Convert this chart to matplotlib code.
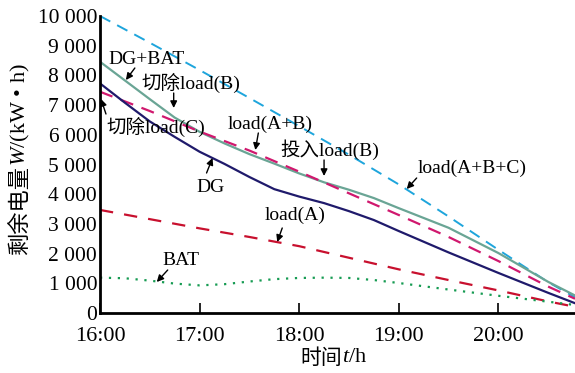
import matplotlib
matplotlib.use('Agg')
import matplotlib.pyplot as plt

plt.rcParams['mathtext.fontset'] = 'custom'
plt.rcParams['mathtext.it'] = 'Liberation Serif:italic'
plt.rcParams['mathtext.rm'] = 'Liberation Serif'

# 时间（从16:00起的小时数）
t = [0, 0.5, 1.0, 1.5, 2.0, 2.5, 3.0, 3.5, 4.0, 4.5, 4.77]
load_abc = [10000, 9100, 8180, 7240, 6290, 5330, 4330, 3250, 2130, 1040, 530]
load_ab = [7450, 6800, 6110, 5470, 4760, 4030, 3300, 2560, 1750, 890, 480]
load_a = [3470, 3160, 2850, 2560, 2250, 1860, 1470, 1110, 760, 390, 210]

t_q = [0, 0.25, 0.5, 0.75, 1.0, 1.25, 1.5, 1.75, 2.0, 2.25, 2.5, 2.75,
       3.0, 3.5, 4.0, 4.5, 4.77]
dg_bat = [8460, 7830, 7200, 6580, 6100, 5710, 5350, 5030, 4700, 4400, 4150,
          3870, 3530, 2870, 2020, 1050, 590]
dg = [7730, 7080, 6450, 5930, 5430, 5020, 4580, 4170, 3920, 3700, 3430,
      3130, 2760, 2040, 1350, 680, 330]
bat = [1190, 1170, 1090, 990, 930, 970, 1060, 1140, 1180, 1190, 1180,
       1110, 1010, 790, 580, 380, 270]

x_ticks = [0, 1, 2, 3, 4]
x_labels = ['16:00', '17:00', '18:00', '19:00', '20:00']
y_ticks = list(range(0, 10001, 1000))
y_labels = ['0', '1 000', '2 000', '3 000', '4 000', '5 000',
            '6 000', '7 000', '8 000', '9 000', '10 000']

serif = ['Liberation Serif', 'Noto Sans CJK SC']
cjk = ['Noto Sans CJK SC', 'DejaVu Sans']

fig = plt.figure(figsize=(5.75, 3.73), dpi=100)
ax = fig.add_axes([100 / 575, 1 - 313 / 373, 475 / 575, 297 / 373])

ax.plot(t, load_abc, color='#1ea5dc', lw=1.4, dashes=(6, 4))
ax.plot(t_q, dg_bat, color='#6aa595', lw=1.6)
ax.plot(t, load_ab, color='#d0186e', lw=1.6, dashes=(6, 4))
ax.plot(t_q, dg, color='#1f1a6b', lw=1.6)
ax.plot(t, load_a, color='#c8102e', lw=1.6, dashes=(6, 5))
ax.plot(t_q, bat, color='#169b52', lw=1.6, linestyle=(0, (1, 3)))

ax.set_xlim(0, 4.77)
ax.set_ylim(0, 10000)
ax.set_xticks(x_ticks)
ax.set_xticklabels(x_labels, fontfamily='Liberation Serif', fontsize=16)
ax.set_yticks(y_ticks)
ax.set_yticklabels(y_labels, fontfamily='Liberation Serif', fontsize=15.5)
ax.tick_params(axis='x', direction='in', length=7, width=1.2, pad=10)
ax.tick_params(axis='y', direction='in', length=0, pad=2)
for s in ['top', 'right']:
    ax.spines[s].set_visible(False)
for s in ['left', 'bottom']:
    ax.spines[s].set_linewidth(2)

# 标注：文字位置、箭头尾、箭头头
notes = [
    ('DG+BAT', (0.47, 8519), (0.35, 8249), (0.26, 7845)),
    ('切除load(B)', (0.91, 7744), (0.74, 7407), (0.74, 6902)),
    ('切除load(C)', (0.56, 6263), (0.06, 6700), (0.01, 7205)),
    ('load(A+B)', (1.71, 6364), (1.59, 6061), (1.56, 5488)),
    ('投入load(B)', (2.31, 5488), (2.25, 5152), (2.25, 4613)),
    ('load(A+B+C)', (3.74, 4882), (3.18, 4545), (3.08, 4175)),
    ('DG', (1.11, 4242), (1.07, 4714), (1.13, 5219)),
    ('load(A)', (1.96, 3300), (1.83, 2862), (1.78, 2391)),
    ('BAT', (0.81, 1751), (0.68, 1448), (0.57, 1044)),
]
for txt, pos, tail, head in notes:
    ax.text(pos[0], pos[1], txt, family=serif, fontsize=14,
            ha='center', va='center')
    ax.annotate('', xy=head, xytext=tail,
                arrowprops=dict(arrowstyle='-|>', color='k', lw=1.0,
                                mutation_scale=10, shrinkA=0, shrinkB=0))

# 坐标轴标题
fig.text(20 / 575, 1 - 166 / 373, '剩余电量', family=cjk, fontsize=16,
         rotation=90, ha='center', va='top')
fig.text(20 / 575, 1 - 166 / 373, '$W$/(kW • h)', family='Liberation Serif',
         fontsize=16, rotation=90, ha='center', va='bottom')
fig.text(342 / 575, 1 - 358 / 373, '时间', family=cjk, fontsize=15,
         ha='right', va='center')
fig.text(342 / 575, 1 - 358 / 373, '$t$/h', family='Liberation Serif',
         fontsize=16, ha='left', va='center')

fig.savefig('out.png', dpi=100)
